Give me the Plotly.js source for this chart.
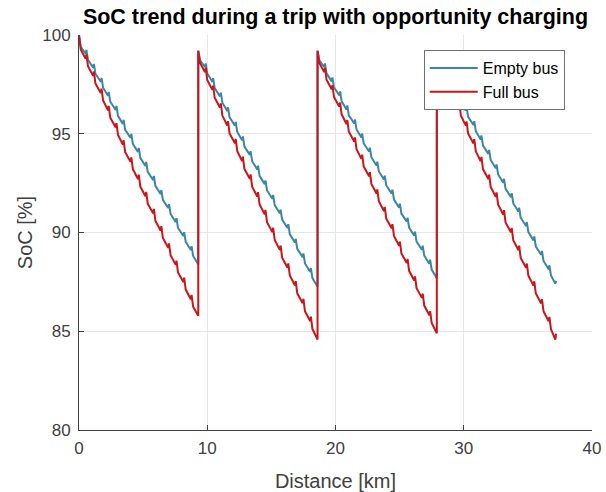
<!DOCTYPE html>
<html>
<head>
<meta charset="utf-8">
<script src="https://cdn.plot.ly/plotly-3.0.1.min.js"></script>
<style>html,body{margin:0;padding:0;background:#fff;}#chart{width:606px;height:492px;}</style>
</head>
<body>
<div id="chart"></div>
<script>
// Lap start positions along the trip [km] (charging happens at each lap start)
var lapStartKm = [0, 9.3, 18.6, 27.9];

// Positions within one lap [km]: for each stop: top of regen tick, after acceleration, end of cruise; then lap end
var lapKm = [
  0.00, 0.14, 0.52,
  0.58, 0.70, 1.10,
  1.16, 1.28, 1.70,
  1.76, 1.88, 2.26,
  2.32, 2.44, 2.86,
  2.92, 3.04, 3.42,
  3.48, 3.60, 4.02,
  4.08, 4.20, 4.60,
  4.66, 4.78, 5.18,
  5.24, 5.36, 5.78,
  5.84, 5.96, 6.36,
  6.42, 6.54, 6.96,
  7.02, 7.14, 7.54,
  7.60, 7.72, 8.14,
  8.20, 8.32, 8.72,
  8.78, 8.90, 9.24,
  9.30
];

// SoC [%] – Empty bus, per lap
var emptyLap1 = [
  100.00, 99.40, 99.05,
  99.25, 98.75, 98.34,
  98.54, 98.04, 97.63,
  97.83, 97.33, 96.92,
  97.12, 96.62, 96.21,
  96.41, 95.91, 95.50,
  95.70, 95.20, 94.79,
  94.99, 94.49, 94.08,
  94.28, 93.78, 93.37,
  93.57, 93.07, 92.66,
  92.86, 92.36, 91.95,
  92.15, 91.65, 91.24,
  91.44, 90.94, 90.53,
  90.73, 90.23, 89.82,
  90.02, 89.52, 89.11,
  89.31, 88.81, 88.40,
  88.38
];
var emptyLap2 = [
  99.20, 98.72, 98.38,
  98.56, 98.05, 97.63,
  97.82, 97.31, 96.89,
  97.08, 96.57, 96.15,
  96.34, 95.83, 95.41,
  95.60, 95.09, 94.67,
  94.86, 94.35, 93.93,
  94.12, 93.61, 93.19,
  93.38, 92.87, 92.45,
  92.64, 92.13, 91.71,
  91.90, 91.39, 90.97,
  91.16, 90.65, 90.23,
  90.42, 89.91, 89.49,
  89.68, 89.17, 88.75,
  88.94, 88.43, 88.01,
  88.20, 87.69, 87.27,
  87.25
];
var emptyLap3 = [
  99.20, 98.72, 98.38,
  98.56, 98.06, 97.65,
  97.85, 97.35, 96.94,
  97.14, 96.64, 96.23,
  96.43, 95.93, 95.52,
  95.72, 95.22, 94.81,
  95.01, 94.51, 94.10,
  94.30, 93.80, 93.39,
  93.59, 93.09, 92.68,
  92.88, 92.38, 91.97,
  92.17, 91.67, 91.26,
  91.46, 90.96, 90.55,
  90.75, 90.25, 89.84,
  90.04, 89.54, 89.13,
  89.33, 88.83, 88.42,
  88.62, 88.12, 87.71,
  87.68
];
var emptyLap4 = [
  99.20, 98.72, 98.38,
  98.56, 98.05, 97.63,
  97.83, 97.32, 96.90,
  97.10, 96.59, 96.17,
  96.37, 95.86, 95.44,
  95.64, 95.13, 94.71,
  94.91, 94.40, 93.98,
  94.18, 93.67, 93.25,
  93.45, 92.94, 92.52,
  92.72, 92.21, 91.79,
  91.99, 91.48, 91.06,
  91.26, 90.75, 90.33,
  90.53, 90.02, 89.60,
  89.80, 89.29, 88.87,
  89.07, 88.56, 88.14,
  88.34, 87.83, 87.41,
  87.55
];

// SoC [%] – Full bus, per lap
var fullLap1 = [
  100.00, 99.25, 98.80,
  99.02, 98.42, 97.93,
  98.15, 97.55, 97.06,
  97.28, 96.68, 96.19,
  96.41, 95.81, 95.32,
  95.54, 94.94, 94.45,
  94.67, 94.07, 93.58,
  93.80, 93.20, 92.71,
  92.93, 92.33, 91.84,
  92.06, 91.46, 90.97,
  91.19, 90.59, 90.10,
  90.32, 89.72, 89.23,
  89.45, 88.85, 88.36,
  88.58, 87.98, 87.49,
  87.71, 87.11, 86.62,
  86.84, 86.24, 85.80,
  85.78
];
var fullLap2 = [
  99.20, 98.58, 98.12,
  98.34, 97.72, 97.22,
  97.44, 96.82, 96.32,
  96.54, 95.92, 95.42,
  95.64, 95.02, 94.52,
  94.74, 94.12, 93.62,
  93.84, 93.22, 92.72,
  92.94, 92.32, 91.82,
  92.04, 91.42, 90.92,
  91.14, 90.52, 90.02,
  90.24, 89.62, 89.12,
  89.34, 88.72, 88.22,
  88.44, 87.82, 87.32,
  87.54, 86.92, 86.42,
  86.64, 86.02, 85.52,
  85.74, 85.12, 84.62,
  84.58
];
var fullLap3 = [
  99.20, 98.58, 98.12,
  98.34, 97.74, 97.25,
  97.46, 96.86, 96.37,
  96.58, 95.98, 95.49,
  95.70, 95.10, 94.61,
  94.82, 94.22, 93.73,
  93.94, 93.34, 92.85,
  93.06, 92.46, 91.97,
  92.18, 91.58, 91.09,
  91.30, 90.70, 90.21,
  90.42, 89.82, 89.33,
  89.54, 88.94, 88.45,
  88.66, 88.06, 87.57,
  87.78, 87.18, 86.69,
  86.90, 86.30, 85.81,
  86.02, 85.42, 84.93,
  84.90
];
var fullLap4 = [
  99.20, 98.58, 98.12,
  98.33, 97.71, 97.21,
  97.43, 96.81, 96.31,
  96.53, 95.91, 95.41,
  95.63, 95.01, 94.51,
  94.73, 94.11, 93.61,
  93.83, 93.21, 92.71,
  92.93, 92.31, 91.81,
  92.03, 91.41, 90.91,
  91.13, 90.51, 90.01,
  90.23, 89.61, 89.11,
  89.33, 88.71, 88.21,
  88.43, 87.81, 87.31,
  87.53, 86.91, 86.41,
  86.63, 86.01, 85.51,
  85.73, 85.11, 84.58,
  84.88
];

var emptyLaps = [emptyLap1, emptyLap2, emptyLap3, emptyLap4];
var fullLaps = [fullLap1, fullLap2, fullLap3, fullLap4];

function buildTrip(laps) {
  var xs = [], ys = [];
  for (var l = 0; l < laps.length; l++) {
    for (var i = 0; i < lapKm.length; i++) {
      xs.push(lapStartKm[l] + lapKm[i]);
      ys.push(laps[l][i]);
    }
  }
  return {x: xs, y: ys};
}

var emptyTrip = buildTrip(emptyLaps);
var fullTrip = buildTrip(fullLaps);

var traces = [
  {x: emptyTrip.x, y: emptyTrip.y, type: 'scatter', mode: 'lines', name: 'Empty bus',
   line: {color: '#3b86a6', width: 2}},
  {x: fullTrip.x, y: fullTrip.y, type: 'scatter', mode: 'lines', name: 'Full bus',
   line: {color: '#cc1419', width: 2}}
];

var fam = 'Liberation Sans, Arial, sans-serif';
var axisFont = {family: fam, size: 17, color: '#404040'};
var layout = {
  width: 606, height: 492,
  margin: {l: 79, r: 14, t: 35, b: 62},
  paper_bgcolor: '#ffffff', plot_bgcolor: '#ffffff',
  font: {family: fam, color: '#404040'},
  title: {text: 'SoC trend during a trip with opportunity charging',
          font: {family: fam, size: 21.5, color: '#000000', weight: 'bold'},
          x: 0.5, xref: 'paper', xanchor: 'center', y: 1 - 16/492, yref: 'container', yanchor: 'middle'},
  xaxis: {range: [0, 40], tickvals: [0, 10, 20, 30, 40], ticktext: ['0','10','20','30','40'],
          showgrid: true, gridcolor: '#e6e6e6', gridwidth: 1, zeroline: false,
          showline: true, linecolor: '#404040', linewidth: 1, mirror: false,
          ticks: 'inside', ticklen: 5, tickcolor: '#404040', tickfont: axisFont, ticklabelstandoff: 3,
          title: {text: 'Distance [km]', font: {family: fam, size: 20, color: '#404040'}, standoff: 16}},
  yaxis: {range: [80, 100], tickvals: [80, 85, 90, 95, 100], ticktext: ['80','85','90','95','100'],
          showgrid: true, gridcolor: '#e6e6e6', gridwidth: 1, zeroline: false,
          showline: true, linecolor: '#404040', linewidth: 1, mirror: false,
          ticks: 'inside', ticklen: 5, tickcolor: '#404040', tickfont: axisFont, ticklabelstandoff: 4,
          title: {text: 'SoC [%]', font: {family: fam, size: 20, color: '#404040'}, standoff: 4}},
  showlegend: true,
  legend: {x: 0.672, y: 0.962, xanchor: 'left', yanchor: 'top',
           bgcolor: '#ffffff', bordercolor: '#707070', borderwidth: 1,
           font: {family: fam, size: 16, color: '#000000'},
           itemwidth: 48, tracegroupgap: 0}
};

Plotly.newPlot('chart', traces, layout, {staticPlot: true, displayModeBar: false});
</script>
</body>
</html>
